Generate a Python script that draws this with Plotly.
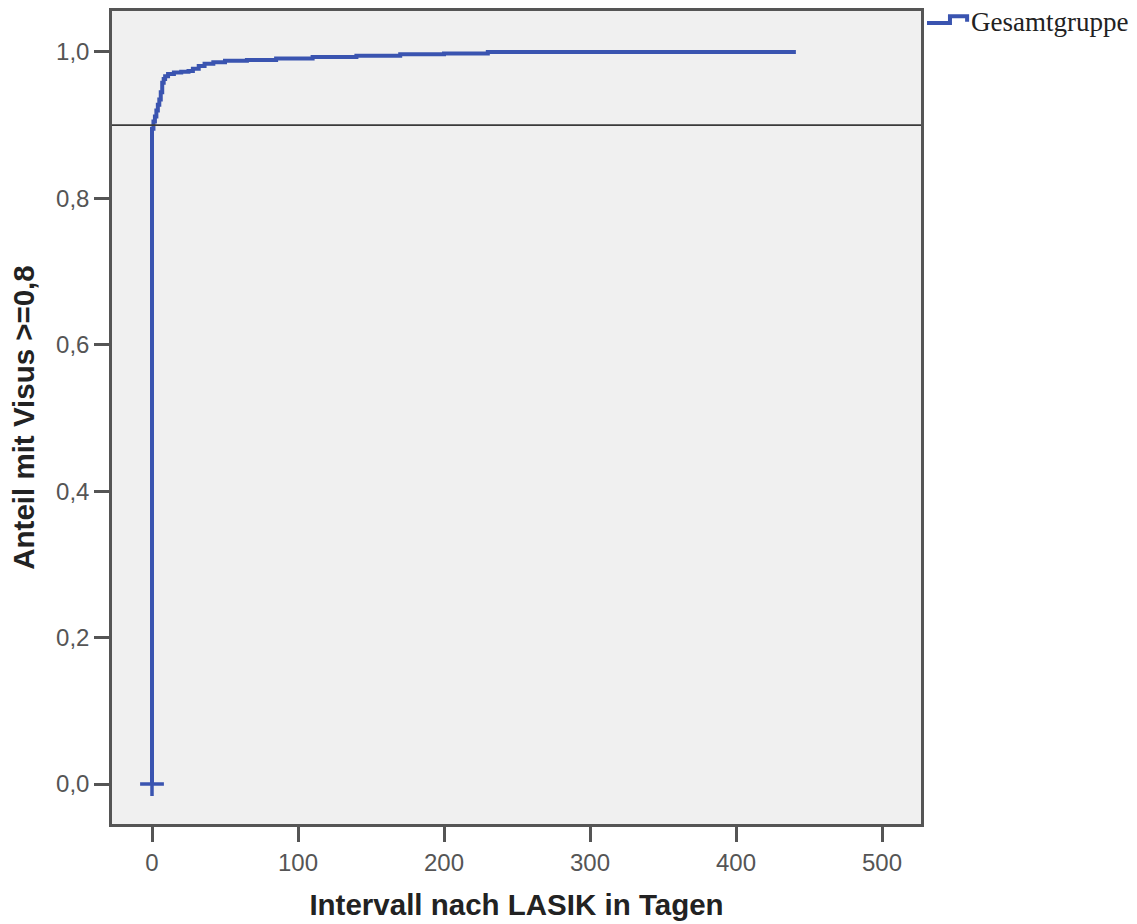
import plotly.graph_objects as go

# Kaplan-Meier style cumulative proportion (step function)
tage = [0, 0, 1, 2, 3, 4, 5, 6, 7, 8, 9, 11, 15, 20, 25, 28, 32, 36, 42, 50,
        65, 85, 110, 140, 170, 200, 230, 441]
anteil = [0.0, 0.895, 0.905, 0.912, 0.92, 0.928, 0.935, 0.945, 0.958, 0.963,
          0.967, 0.970, 0.972, 0.973, 0.974, 0.977, 0.981, 0.984, 0.986, 0.988,
          0.989, 0.991, 0.993, 0.995, 0.997, 0.998, 1.0, 1.0]
zensiert_tage = [0]
zensiert_anteil = [0.0]
referenz = 0.9
gruppe = "Gesamtgruppe"

x_ticks = [0, 100, 200, 300, 400, 500]
y_ticks = [0.0, 0.2, 0.4, 0.6, 0.8, 1.0]

blau = "rgb(58, 84, 176)"
grau = "#555555"
sans = "Liberation Sans, Arial, sans-serif"

fig = go.Figure()
fig.add_trace(go.Scatter(
    x=tage, y=anteil, mode="lines", line=dict(color=blau, width=4, shape="hv"),
    name=gruppe, showlegend=False))
fig.add_trace(go.Scatter(
    x=zensiert_tage, y=zensiert_anteil, mode="markers",
    marker=dict(symbol="cross-thin", size=17, line=dict(color=blau, width=3.5)),
    showlegend=False))

fig.add_hline(y=referenz, line=dict(color="#3a3a3a", width=1.8))

# legend drawn by hand: step-shaped symbol plus serif label
fig.add_shape(type="path", xref="paper", yref="paper",
              path="M 1.0074,0.9852 L 1.0358,0.9852 L 1.0358,0.9935 L 1.057,0.9935 L 1.057,0.9868",
              line=dict(color=blau, width=4))
fig.add_annotation(x=1.0595, y=0.9865, xref="paper", yref="paper", xanchor="left",
                   yanchor="middle", showarrow=False, text=gruppe,
                   font=dict(family="Liberation Serif, Times New Roman, serif",
                             size=27, color="#222222"))

achse = dict(showline=True, mirror=True, linecolor=grau, linewidth=2.5,
             ticks="outside", ticklen=15, tickwidth=2.5, tickcolor=grau,
             showgrid=False, zeroline=False,
             tickfont=dict(family=sans, size=24, color="#555555"))

fig.update_xaxes(range=[-27.4, 526.7], tickvals=x_ticks, **achse,
                 title=dict(text="<b>Intervall nach LASIK in Tagen</b>", standoff=20,
                            font=dict(family=sans, size=29.5, color="#222222")))
fig.update_yaxes(range=[-0.0546, 1.056], tickvals=y_ticks, tickformat=".1f", **achse,
                 title=dict(text="<b>Anteil mit Visus >=0,8</b>", standoff=13,
                            font=dict(family=sans, size=29.5, color="#222222")))

fig.update_layout(
    width=1137, height=924, separators=",.",
    margin=dict(l=112, r=216, t=11, b=100, autoexpand=False),
    plot_bgcolor="#f0f0f0", paper_bgcolor="white",
)

fig.write_html("out.html")
